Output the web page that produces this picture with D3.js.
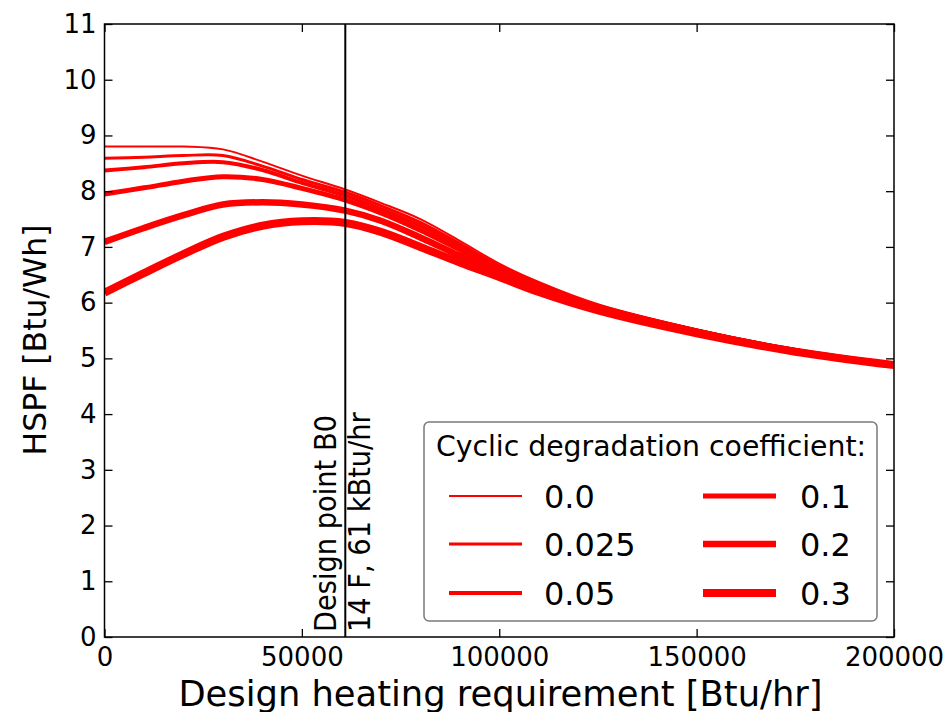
<!DOCTYPE html>
<html><head><meta charset="utf-8">
<script src="https://cdn.jsdelivr.net/npm/d3@7"></script>
<style>
html,body{margin:0;padding:0;background:#fff;}
svg{display:block;}
text{font-family:"DejaVu Sans",sans-serif;fill:#000;}
</style></head>
<body>
<div id="chart"></div>
<script>
// ---- data ----
const xValues = [0, 10000, 20000, 30000, 40000, 50000, 61000, 70000, 80000, 90000, 100000, 110000, 125000, 150000, 175000, 200000];
const coefficients = ["0.0", "0.025", "0.05", "0.1", "0.2", "0.3"];
const hspf_000  = [8.80, 8.80, 8.80, 8.75, 8.53, 8.28, 8.03, 7.79, 7.50, 7.11, 6.70, 6.37, 5.97, 5.52, 5.16, 4.90];
const hspf_0025 = [8.59, 8.61, 8.64, 8.64, 8.45, 8.21, 7.98, 7.74, 7.44, 7.06, 6.66, 6.34, 5.95, 5.51, 5.15, 4.90];
const hspf_005  = [8.37, 8.43, 8.50, 8.52, 8.38, 8.15, 7.92, 7.68, 7.38, 7.01, 6.62, 6.31, 5.94, 5.50, 5.15, 4.89];
const hspf_01   = [7.95, 8.06, 8.18, 8.26, 8.21, 8.05, 7.84, 7.61, 7.30, 6.95, 6.58, 6.28, 5.92, 5.49, 5.14, 4.89];
const hspf_02   = [7.09, 7.34, 7.57, 7.76, 7.80, 7.76, 7.65, 7.47, 7.17, 6.84, 6.52, 6.23, 5.89, 5.47, 5.13, 4.88];
const hspf_03   = [6.18, 6.53, 6.87, 7.18, 7.38, 7.46, 7.43, 7.27, 7.00, 6.72, 6.46, 6.19, 5.86, 5.45, 5.12, 4.88];
const seriesValues = [hspf_000, hspf_0025, hspf_005, hspf_01, hspf_02, hspf_03];
const lineWidths = [2, 3, 4, 5, 6.5, 8];
const xTicks = [0, 50000, 100000, 150000, 200000];
const yTicks = [0,1,2,3,4,5,6,7,8,9,10,11];
const designPoint = 61000;
const designLabel1 = "Design point B0";
const designLabel2 = "14 F, 61 kBtu/hr";
const xTitle = "Design heating requirement [Btu/hr]";
const yTitle = "HSPF [Btu/Wh]";
const legendTitle = "Cyclic degradation coefficient:";

// ---- layout ----
const W = 947, H = 712;
const L = 104.5, R = 894, T = 24, B = 637;
const svg = d3.select("#chart").append("svg").attr("width", W).attr("height", H);

const x = d3.scaleLinear().domain([0, 200000]).range([L, R]);
const y = d3.scaleLinear().domain([0, 11]).range([B, T]);

svg.append("defs").append("clipPath").attr("id","clip")
  .append("rect").attr("x", L).attr("y", T).attr("width", R-L).attr("height", B-T);

// lines
const line = d3.line().x(d => x(d[0])).y(d => y(d[1])).curve(d3.curveCatmullRom.alpha(0.5));
const g = svg.append("g").attr("clip-path","url(#clip)");
seriesValues.forEach((vals, i) => {
  g.append("path")
    .datum(xValues.map((xv, j) => [xv, vals[j]]))
    .attr("d", line)
    .attr("fill","none")
    .attr("stroke","#ff0000")
    .attr("stroke-width", lineWidths[i])
    .attr("stroke-linejoin","round");
});

// design point line
svg.append("line")
  .attr("x1", x(designPoint)).attr("x2", x(designPoint))
  .attr("y1", T).attr("y2", B)
  .attr("stroke","#000").attr("stroke-width",2);

// annotations
svg.append("text")
  .attr("transform", `translate(${x(designPoint)-9},${B-5}) rotate(-90)`)
  .style("font-family","'DejaVu Sans Condensed','DejaVu Sans',sans-serif")
  .style("font-size","30.3px")
  .text(designLabel1);
svg.append("text")
  .attr("transform", `translate(${x(designPoint)+25},${B-5}) rotate(-90)`)
  .style("font-family","'DejaVu Sans Condensed','DejaVu Sans',sans-serif")
  .style("font-size","30.3px")
  .text(designLabel2);

// axes (ticks inward on all sides)
const tickLen = 8;
const axB = d3.axisBottom(x).tickValues(xTicks).tickSizeInner(-tickLen).tickSizeOuter(0).tickPadding(11).tickFormat(d3.format("d"));
const axT = d3.axisTop(x).tickValues(xTicks).tickSizeInner(-tickLen).tickSizeOuter(0).tickFormat("");
const axL = d3.axisLeft(y).tickValues(yTicks).tickSizeInner(-tickLen).tickSizeOuter(0).tickPadding(8).tickFormat(d3.format("d"));
const axR = d3.axisRight(y).tickValues(yTicks).tickSizeInner(-tickLen).tickSizeOuter(0).tickFormat("");

function styleAxis(sel){
  sel.select(".domain").remove();
  sel.selectAll(".tick line").attr("stroke","#000").attr("stroke-width",1.3);
  sel.selectAll(".tick text").style("font-size","26px").style("font-family","'DejaVu Sans',sans-serif").attr("fill","#000");
}
svg.append("g").attr("transform",`translate(0,${B})`).call(axB).call(styleAxis);
svg.append("g").attr("transform",`translate(0,${T})`).call(axT).call(styleAxis);
svg.append("g").attr("transform",`translate(${L},0)`).call(axL).call(styleAxis);
svg.append("g").attr("transform",`translate(${R},0)`).call(axR).call(styleAxis);

// frame
svg.append("rect").attr("x",L).attr("y",T).attr("width",R-L).attr("height",B-T)
  .attr("fill","none").attr("stroke","#000").attr("stroke-width",1.5);

// axis titles
svg.append("text").attr("x",500.5).attr("y",705.5).attr("text-anchor","middle")
  .style("font-size","35.3px").text(xTitle);
svg.append("text").attr("transform",`translate(46,340) rotate(-90)`).attr("text-anchor","middle")
  .style("font-size","31.5px").text(yTitle);

// legend
const lg = svg.append("g");
lg.append("rect").attr("x",424).attr("y",422).attr("width",453).attr("height",199)
  .attr("rx",5).attr("ry",5).attr("fill","#fff").attr("stroke","#7a7a7a").attr("stroke-width",1.5);
lg.append("text").attr("x",651).attr("y",456).attr("text-anchor","middle")
  .style("font-size","28.3px").text(legendTitle);
const rowY = [496, 544, 593];
coefficients.forEach((c, i) => {
  const col = Math.floor(i / 3), row = i % 3;
  const x0 = col === 0 ? 449 : 703;
  const tx = col === 0 ? 544 : 800;
  lg.append("line").attr("x1", x0).attr("x2", x0 + 73).attr("y1", rowY[row]).attr("y2", rowY[row])
    .attr("stroke","#ff0000").attr("stroke-width", lineWidths[i]);
  lg.append("text").attr("x", tx).attr("y", rowY[row] + 11.5)
    .style("font-size","32px").text(c);
});
</script>
</body></html>
